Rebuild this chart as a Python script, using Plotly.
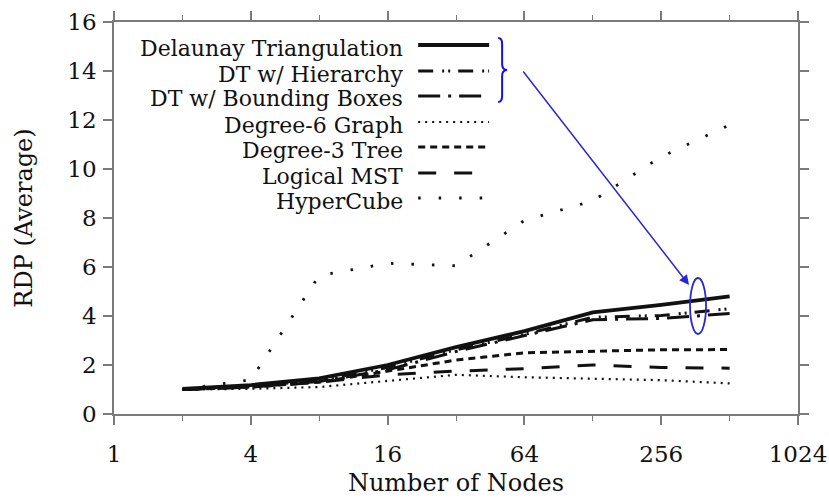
import plotly.graph_objects as go

# ---------------- data ----------------
nodes = [2, 4, 8, 16, 32, 64, 128, 256, 512]
series_names = ["Delaunay Triangulation", "DT w/ Hierarchy", "DT w/ Bounding Boxes",
                "Degree-6 Graph", "Degree-3 Tree", "Logical MST", "HyperCube"]
delaunay = [1.02, 1.18, 1.45, 2.0, 2.73, 3.38, 4.15, 4.45, 4.8]
dt_hier = [1.0, 1.12, 1.38, 1.9, 2.62, 3.25, 3.95, 4.02, 4.3]
dt_bbox = [1.0, 1.1, 1.33, 1.8, 2.55, 3.2, 3.85, 3.9, 4.1]
degree6 = [1.0, 1.03, 1.1, 1.35, 1.6, 1.5, 1.45, 1.38, 1.25]
degree3 = [1.0, 1.1, 1.3, 1.75, 2.2, 2.5, 2.55, 2.62, 2.63]
mst = [1.0, 1.1, 1.3, 1.6, 1.75, 1.85, 2.0, 1.9, 1.87]
hypercube = [1.0, 1.4, 5.65, 6.15, 6.05, 7.9, 8.7, 10.5, 11.8]
x_tickvals = [1, 4, 16, 64, 256, 1024]
x_ticktext = ["1", "4", "16", "64", "256", "1024"]
x_minor = [2, 8, 32, 128, 512]
y_tickvals = [0, 2, 4, 6, 8, 10, 12, 14, 16]

values = [delaunay, dt_hier, dt_bbox, degree6, degree3, mst, hypercube]
dashes = ["solid", "15px,9px,2px,4px,2px,8px", "22px,8px,3px,8px", "2px,5px",
          "7px,5px", "18px,18px", "2.5px,18px"]
widths = [3.8, 3.0, 3.0, 2.2, 3.0, 3.0, 2.8]

W, H = 829, 504
L, R, T, B = 113.7, 798.0, 22.0, 414.0

def px(xp):
    return (xp - L) / (R - L)

def py(yp):
    return (B - yp) / (B - T)

FONT = "DejaVu Serif"
FS = 23
LEG_FS = 22

fig = go.Figure()
for name, v, d, w in zip(series_names, values, dashes, widths):
    fig.add_trace(go.Scatter(x=nodes, y=v, mode="lines", name=name,
                             line=dict(color="#111111", width=w, dash=d),
                             showlegend=False))

# manual legend (right-aligned text with sample line on the right)
row_y = [45, 71, 96, 122, 147, 173, 198]
shapes = []
annotations = []
for name, d, w, ry in zip(series_names, dashes, widths, row_y):
    annotations.append(dict(x=px(404), y=py(ry + 3), xref="paper", yref="paper",
                            text=name, showarrow=False, xanchor="right", yanchor="middle",
                            borderpad=0,
                            font=dict(family=FONT, size=LEG_FS, color="#111")))
    shapes.append(dict(type="line", xref="paper", yref="paper",
                       x0=px(418), x1=px(489), y0=py(ry), y1=py(ry),
                       line=dict(color="#111111", width=w, dash=d)))

# blue brace
pts = [(498, 38), (502, 38), (502, 44), (502, 64), (502, 70), (507, 70),
       (502, 70), (502, 76), (502, 96), (502, 102), (498, 102)]
p = [(px(a), py(b)) for a, b in pts]
path = (f"M {p[0][0]},{p[0][1]} Q {p[1][0]},{p[1][1]} {p[2][0]},{p[2][1]} "
        f"L {p[3][0]},{p[3][1]} Q {p[4][0]},{p[4][1]} {p[5][0]},{p[5][1]} "
        f"Q {p[6][0]},{p[6][1]} {p[7][0]},{p[7][1]} L {p[8][0]},{p[8][1]} "
        f"Q {p[9][0]},{p[9][1]} {p[10][0]},{p[10][1]}")
shapes.append(dict(type="path", xref="paper", yref="paper", path=path,
                   line=dict(color="#1010ee", width=2)))
# ellipse
shapes.append(dict(type="circle", xref="paper", yref="paper",
                   x0=px(690), x1=px(706), y0=py(334), y1=py(278),
                   line=dict(color="#2828d0", width=1.8)))
# arrow
annotations.append(dict(x=px(689), y=py(285), xref="paper", yref="paper",
                        ax=522 - 689, ay=70 - 285, showarrow=True, text="",
                        arrowhead=2, arrowsize=1.3, arrowwidth=1.5,
                        arrowcolor="#2828d0", standoff=0))

axis_common = dict(showline=True, linecolor="#7a7a7a", linewidth=1.6, mirror="ticks",
                   ticks="outside", tickcolor="#7a7a7a", tickwidth=1.6, ticklen=9,
                   showgrid=False, zeroline=False, automargin=False,
                   tickfont=dict(family=FONT, size=FS, color="#111"))

fig.update_layout(
    width=W, height=H,
    margin=dict(l=L, r=W - R, t=T, b=H - B),
    paper_bgcolor="white", plot_bgcolor="white",
    shapes=shapes, annotations=annotations,
    xaxis=dict(type="log", range=[0, 3.0103], tickvals=x_tickvals, ticktext=x_ticktext,
               minor=dict(tickvals=x_minor, ticks="outside", ticklen=5,
                          tickcolor="#7a7a7a", tickwidth=1.4),
               ticklabelstandoff=10,
               title=dict(text="Number of Nodes", font=dict(family=FONT, size=24, color="#111"),
                          standoff=8),
               **axis_common),
    yaxis=dict(range=[0, 16], tickvals=y_tickvals, ticklabelstandoff=2,
               title=dict(text="RDP (Average)", font=dict(family=FONT, size=24, color="#111"),
                          standoff=28),
               **axis_common),
)

fig.write_html("out.html", config={"displayModeBar": False},
               post_script="document.body.style.margin='0';")
